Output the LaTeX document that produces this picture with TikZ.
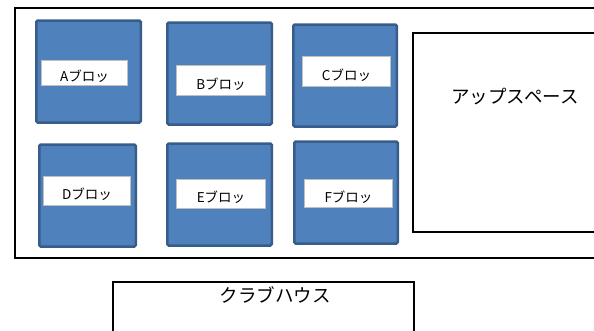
\documentclass[tikz,border=0pt]{standalone}
\usepackage{fontspec}
\setmainfont{Noto Sans CJK JP}
\definecolor{blockfill}{HTML}{4F81BD}
\definecolor{blockedge}{HTML}{385D8A}

\begin{document}
\begin{tikzpicture}[x=1pt,y=-1pt,
				block/.style={rectangle, draw=blockedge, fill=blockfill, line width=2.5pt, rounded corners=1.5pt, minimum height=102pt},
				tag/.style={rectangle, draw=gray!50, fill=white, line width=1pt, inner sep=0pt, text height=17pt, text depth=0pt, font=\fontsize{13.5}{15}\selectfont},
				area/.style={rectangle, draw, line width=1.6pt, inner sep=0pt},
				roomtext/.style={font=\fontsize{18.5}{20}\selectfont}]
	\useasboundingbox (0,0) rectangle (594,330);
	\clip (0,0) rectangle (594,330);
	\node[area, minimum width=600pt, minimum height=250pt] (Site) at (315,133) {};
	\node[area, minimum width=200pt, minimum height=199pt] (Up) at (513,132.5) {};
	\node[area, minimum width=301pt, minimum height=60pt] (Club) at (263.5,312) {};
	\node[roomtext] (UpT) at (515,97) {アップスペース};
	\node[roomtext] (ClubT) at (275,295) {クラブハウス};
	\node[block, minimum width=104.5pt] (A) at (88.5,71.5) {};
	\node[block, minimum width=104.5pt] (B) at (219.5,73.5) {};
	\node[block, minimum width=103.5pt] (C) at (345,75.5) {};
	\node[block, minimum width=96.5pt] (D) at (87.5,195.5) {};
	\node[block, minimum width=104.5pt] (E) at (219.5,194.5) {};
	\node[block, minimum width=103.5pt] (F) at (346,192.5) {};
	\node[tag, minimum width=86pt, minimum height=25pt] (At) at (84.5,73) {Aブロッ};
	\node[tag, minimum width=89pt, minimum height=30pt] (Bt) at (221,80.5) {Bブロッ};
	\node[tag, minimum width=88pt, minimum height=30pt] (Ct) at (346.5,71.5) {Cブロッ};
	\node[tag, minimum width=87pt, minimum height=29pt] (Dt) at (87,191) {Dブロッ};
	\node[tag, minimum width=89pt, minimum height=29pt] (Et) at (221,194) {Eブロッ};
	\node[tag, minimum width=88pt, minimum height=28pt] (Ft) at (348.5,193.5) {Fブロッ};
\end{tikzpicture}
\end{document}
